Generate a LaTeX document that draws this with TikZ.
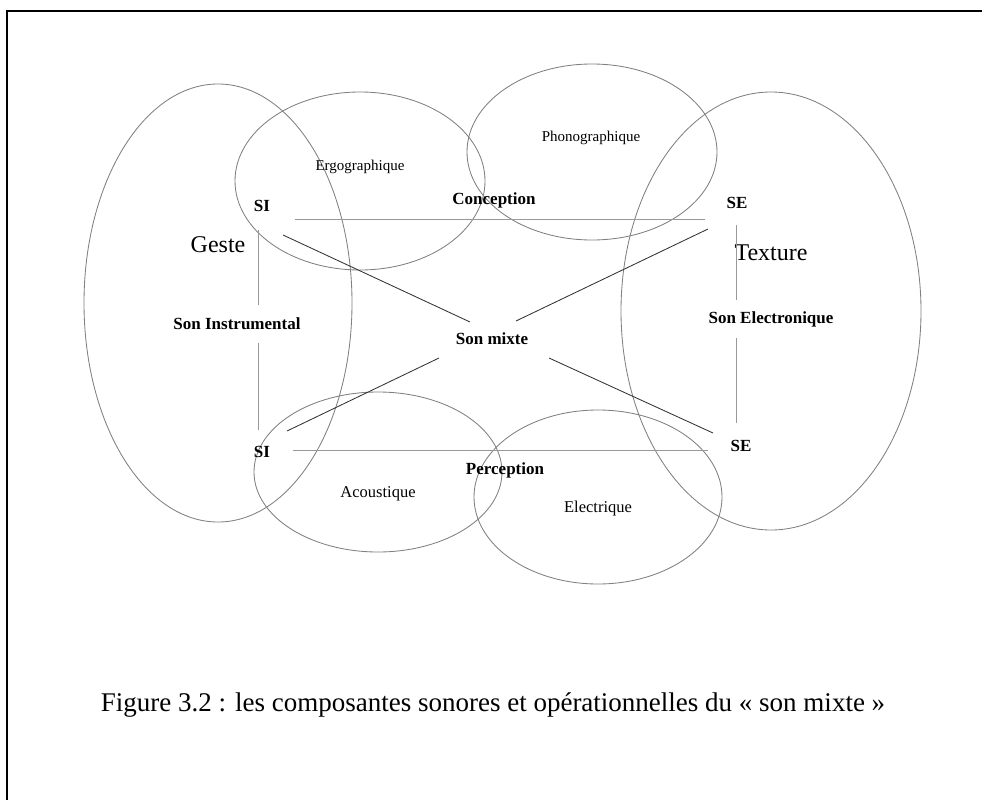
\documentclass[tikz,border=0pt]{standalone}
\usepackage{fontspec}
\setmainfont{Liberation Serif}
\usetikzlibrary{shapes.geometric}
\begin{document}
\begin{tikzpicture}[x=1pt,y=-1pt,
  ell/.style={draw=black!50,line width=0.85pt},
  hv/.style={draw=black!40,line width=0.95pt},
  diag/.style={draw=black!80,line width=0.85pt},
  bl/.style={font=\fontsize{17}{20}\selectfont\bfseries,inner sep=0pt},
  lab/.style={font=\fontsize{15}{18}\selectfont,inner sep=0pt},
  labb/.style={font=\fontsize{16.5}{19}\selectfont,inner sep=0pt},
  big/.style={font=\fontsize{24}{28}\selectfont,inner sep=0pt}]
\useasboundingbox (0,0) rectangle (982,800);
% frame (right and bottom edges fall outside the picture)
\draw[line width=2pt] (1000,11) -- (7,11) -- (7,820);
% ellipses
\draw[ell] (218,303) ellipse [x radius=134, y radius=219];
\draw[ell] (360,181) ellipse [x radius=125, y radius=89];
\draw[ell] (592,152) ellipse [x radius=125, y radius=88];
\draw[ell] (771,311) ellipse [x radius=150, y radius=219];
\draw[ell] (378,472) ellipse [x radius=124, y radius=80];
\draw[ell] (598,497) ellipse [x radius=124, y radius=87];
% labels
\node[bl] (si1) at (262,206) {SI};
\node[bl] (si2) at (262,452) {SI};
\node[bl] (se1) at (737,203) {SE};
\node[bl] (se2) at (741,446) {SE};
\node[bl] (conc) at (494,200) {Conception};
\node[bl] (perc) at (505,470) {Perception};
\node[bl] (sinst) at (237,324) {Son Instrumental};
\node[bl] (selec) at (771,319) {Son Electronique};
\node[bl] (smix) at (492,339) {Son mixte};
\node[lab] (ergo) at (360,167) {Ergographique};
\node[lab] (phono) at (591,138) {Phonographique};
\node[labb] (acou) at (378,494) {Acoustique};
\node[labb] (elec) at (598,509) {Electrique};
\node[big] (geste) at (218,245) {Geste};
\node[big] (text) at (771,253) {Texture};
\node[font=\fontsize{27}{31}\selectfont,inner sep=0pt] (cap) at (493,705) {Figure 3.2 : les composantes sonores et opérationnelles du «~son mixte~»};
% line end coordinates
\coordinate (h1a) at (295,219); \coordinate (h1b) at (705,219);
\coordinate (h2a) at (293,450); \coordinate (h2b) at (708,450);
\coordinate (v1a) at (258,230); \coordinate (v1b) at (258,305);
\coordinate (v1c) at (258,343); \coordinate (v1d) at (258,430);
\coordinate (v2a) at (736,225); \coordinate (v2b) at (736,300);
\coordinate (v2c) at (736,338); \coordinate (v2d) at (736,423);
\coordinate (d1a) at (283,235); \coordinate (d1b) at (470,322);
\coordinate (d2a) at (708,229); \coordinate (d2b) at (516,321);
\coordinate (d3a) at (439,358); \coordinate (d3b) at (287,431);
\coordinate (d4a) at (549,358); \coordinate (d4b) at (713,433);
% connectors
\draw[hv] (h1a) -- (h1b);
\draw[hv] (h2a) -- (h2b);
\draw[hv] (v1a) -- (v1b);
\draw[hv] (v1c) -- (v1d);
\draw[hv] (v2a) -- (v2b);
\draw[hv] (v2c) -- (v2d);
\draw[diag] (d1a) -- (d1b);
\draw[diag] (d2a) -- (d2b);
\draw[diag] (d3a) -- (d3b);
\draw[diag] (d4a) -- (d4b);
\end{tikzpicture}
\end{document}
